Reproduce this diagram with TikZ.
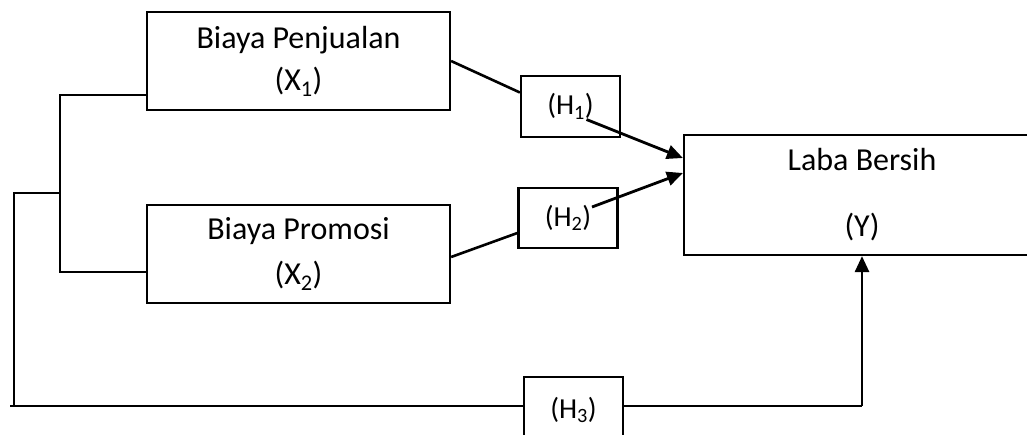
\documentclass[tikz,border=0pt]{standalone}
\usepackage{fontspec}
\setmainfont{Carlito}
\usetikzlibrary{arrows.meta}
\begin{document}
\begin{tikzpicture}[x=1pt, y=-1pt, line width=2.2pt,
    var/.style={draw, align=center, inner sep=0pt, font=\fontsize{32}{45}\selectfont},
    hyp/.style={draw, minimum width=99pt, minimum height=61pt, inner sep=0pt, font=\fontsize{29}{34}\selectfont},
    arr/.style={-{Triangle[length=16pt,width=14pt]}, line width=2.8pt}]
        \useasboundingbox (0,0) rectangle (1027,434);
        \clip (0,0) rectangle (1027,434);

        \node[var, minimum width=303pt, minimum height=98pt] (x1) at (298.5,61) {\raisebox{-3pt}{Biaya Penjualan}\\(X\textsubscript{1})};
        \node[var, minimum width=303pt, minimum height=98pt] (x2) at (298.5,254) {Biaya Promosi\\(X\textsubscript{2})};
        \node[var, minimum width=356pt, minimum height=120pt] (y) at (862,195) {Laba Bersih\\[21pt](Y)};
        \node[hyp] (h1) at (570.5,106.5) {(H\textsubscript{1})};
        \node[hyp, minimum height=60pt] (h2) at (568,218) {(H\textsubscript{2})};
        \node[hyp, minimum height=66pt] (h3) at (573.5,410) {(H\textsubscript{3})};

        \coordinate (b1) at (60,95);
        \coordinate (b2) at (60,272);
        \coordinate (bm) at (60,193);
        \coordinate (o1) at (14,193);
        \coordinate (o2) at (14,406);
        \coordinate (base) at (10,406);
        \coordinate (yc) at (862,406);

        % bracket on the left
        \draw ([yshift=-34pt]x1.west) -- (b1) -- (b2) -- ([yshift=-18pt]x2.west);
        \draw (bm) -- (o1) -- (o2);
        \draw (base) -- (base -| h3.west);
        \draw (h3.east |- yc) -- (yc);

        \draw[line width=2.6pt] (x1.east) -- ([yshift=14pt]h1.west);
        \draw[arr] ([shift={(16,13)}]h1.center) -- ([yshift=37pt]y.west);
        \draw[line width=2.6pt] ([yshift=-3pt]x2.east) -- ([yshift=-15pt]h2.west);
        \draw[arr] ([shift={(24,-11)}]h2.center) -- ([yshift=22pt]y.west);
        \draw[arr] (yc) -- (y.south);
      \end{tikzpicture}
\end{document}
